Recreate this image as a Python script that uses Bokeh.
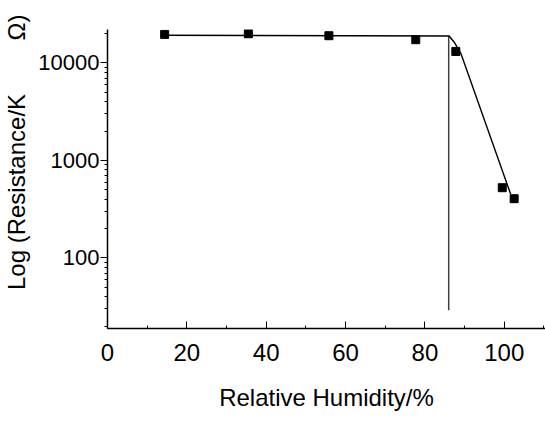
from bokeh.plotting import figure
from bokeh.models import FixedTicker, Range1d, PrintfTickFormatter
from bokeh.embed import file_html
from bokeh.resources import INLINE

# measured data points (relative humidity %, resistance kOhm)
humidity = [14.4, 35.5, 55.8, 77.7, 87.8, 99.5, 102.5]
resistance = [19600, 19900, 19000, 17300, 13100, 525, 405]

# drawn fit line
fit_humidity = [14.4, 86.1, 87.4, 89.1, 101.6]
fit_resistance = [19200, 18900, 16300, 12400, 453]

# vertical drop line
drop_humidity = [86.0, 86.0]
drop_resistance = [18900, 29]

x_ticks = [0, 20, 40, 60, 80, 100]
x_minor_ticks = [10, 30, 50, 70, 90, 110]
y_ticks = [100, 1000, 10000]
y_minor_ticks = [k * 10 ** d for d in (1, 2, 3, 4) for k in range(2, 10)]

FONT = "Liberation Sans"

p = figure(width=545, height=422, y_axis_type="log",
           x_range=Range1d(0, 110.4), y_range=Range1d(18.9, 22000),
           output_backend="svg", toolbar_location=None,
           min_border_left=106, min_border_right=0, min_border_top=29,
           min_border_bottom=94)
p.outline_line_color = None
p.grid.visible = False
p.background_fill_color = "white"

p.line(drop_humidity, drop_resistance, line_color="#404040", line_width=1.5)
p.line(fit_humidity, fit_resistance, line_color="black", line_width=1.4)
p.scatter(humidity, resistance, marker="square", size=8,
          fill_color="black", line_color="black")

xa = p.xaxis[0]
xa.ticker = FixedTicker(ticks=x_ticks, minor_ticks=x_minor_ticks)
xa.formatter = PrintfTickFormatter(format="%d")
xa.major_tick_in = 7
xa.major_tick_out = 0
xa.minor_tick_in = 3
xa.minor_tick_out = 0
xa.axis_line_width = 1.5
xa.major_label_text_font = FONT
xa.major_label_text_font_size = "24px"
xa.major_label_text_color = "black"
xa.major_label_standoff = 15
xa.axis_label = "Relative Humidity/%"
xa.axis_label_text_font = FONT
xa.axis_label_text_font_size = "24px"
xa.axis_label_text_font_style = "normal"
xa.axis_label_text_color = "black"
xa.axis_label_standoff = 20

ya = p.yaxis[0]
ya.ticker = FixedTicker(ticks=y_ticks, minor_ticks=y_minor_ticks)
ya.formatter = PrintfTickFormatter(format="%d")
ya.major_tick_in = 0
ya.major_tick_out = 7
ya.minor_tick_in = 0
ya.minor_tick_out = 3
ya.axis_line_width = 1.5
ya.major_label_text_font = FONT
ya.major_label_text_font_size = "22px"
ya.major_label_text_color = "black"
ya.major_label_standoff = 1
ya.axis_label = "\u00a0" * 8 + "Log (Resistance/K" + "\u00a0" * 8 + "\u03a9)"
ya.axis_label_text_font = FONT
ya.axis_label_text_font_size = "24px"
ya.axis_label_text_font_style = "normal"
ya.axis_label_text_color = "black"
ya.axis_label_standoff = 5

open("out.html", "w").write(file_html(p, INLINE))
